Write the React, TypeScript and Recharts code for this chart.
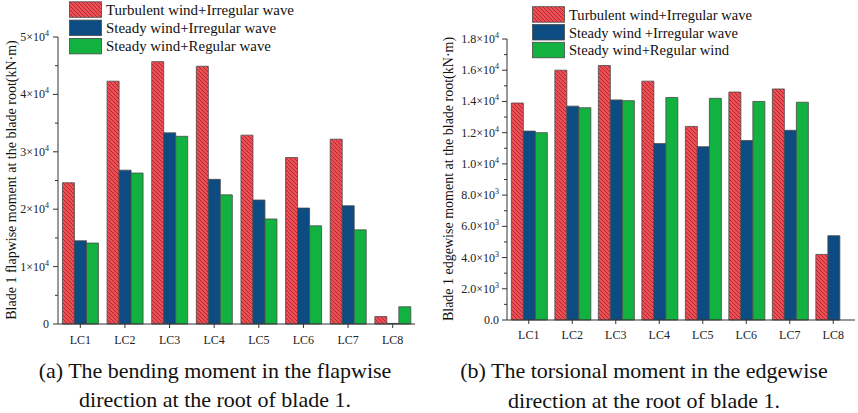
import { BarChart, Bar, XAxis, YAxis } from 'recharts'

const categories = ['LC1', 'LC2', 'LC3', 'LC4', 'LC5', 'LC6', 'LC7', 'LC8']

// (a) flapwise bending moment, kN·m
const flapTurbIrr = [24600, 42300, 45700, 44900, 32900, 29000, 32200, 1300]
const flapSteadyIrr = [14500, 26800, 33300, 25200, 21600, 20200, 20600, 100]
const flapSteadyReg = [14100, 26300, 32700, 22500, 18300, 17100, 16400, 3000]

// (b) edgewise torsional moment, kN·m
const edgeTurbIrr = [13900, 16000, 16300, 15300, 12400, 14600, 14800, 4200]
const edgeSteadyIrr = [12100, 13700, 14100, 11300, 11100, 11500, 12150, 5400]
const edgeSteadyReg = [12000, 13600, 14050, 14250, 14200, 14000, 13950, 0]

const flapLegend = ['Turbulent wind+Irregular wave', 'Steady wind+Irregular wave', 'Steady wind+Regular wave']
const edgeLegend = ['Turbulent wind+Irregular wave', 'Steady wind +Irregular wave', 'Steady wind+Regular wind']

const flapTicks = [0, 5000, 10000, 15000, 20000, 25000, 30000, 35000, 40000, 45000, 50000]
const edgeTicks = [0, 1000, 2000, 3000, 4000, 5000, 6000, 7000, 8000, 9000, 10000, 11000, 12000, 13000, 14000, 15000, 16000, 17000, 18000]

const RED = '#F14D55'
const BLUE = '#0D4C82'
const GREEN = '#12B240'
const EDGE = '#4a4a4a'
const FONT = '"Liberation Serif", "Times New Roman", serif'

const flapData = categories.map((c, i) => ({ name: c, a: flapTurbIrr[i], b: flapSteadyIrr[i], c: flapSteadyReg[i] }))
const edgeData = categories.map((c, i) => ({ name: c, a: edgeTurbIrr[i], b: edgeSteadyIrr[i], c: edgeSteadyReg[i] }))

function fmtFlap(v: number) {
  if (v === 0) return { m: '0', e: '' }
  return { m: `${v / 10000}×10`, e: '4' }
}

function fmtEdge(v: number) {
  if (v === 0) return { m: '0.0', e: '' }
  if (v < 10000) return { m: `${(v / 1000).toFixed(1)}×10`, e: '3' }
  return { m: `${(v / 10000).toFixed(1)}×10`, e: '4' }
}

function makeYTick(step: number, fmt: (v: number) => { m: string; e: string }, gap: number) {
  return (props: any) => {
    const { x, y, payload } = props
    const major = payload.value % step === 0
    const len = major ? 5 : 3
    const t = fmt(payload.value)
    return (
      <g>
        <line x1={x - len} x2={x} y1={y} y2={y} stroke="#333" strokeWidth={1} />
        {major && (
          <text x={x - 5 - gap} y={y + 4} textAnchor="end" fontSize={12} fontFamily={FONT} fill="#222">
            {t.m}
            {t.e && <tspan fontSize={8} dy={-5}>{t.e}</tspan>}
          </text>
        )}
      </g>
    )
  }
}

function Hatch({ id }: { id: string }) {
  return (
    <pattern id={id} patternUnits="userSpaceOnUse" width={4} height={4}>
      <rect width={4} height={4} fill={RED} />
      <path d="M-1,-1 L5,5 M-1,3 L1,5 M3,-1 L5,1" stroke="#9b2a30" strokeWidth={0.9} />
    </pattern>
  )
}

// legend drawn in svg so the label widths can be pinned to the reference
function Legend({ labels, widths, x, y, pitch, fontSize, hatchId }: {
  labels: string[]; widths: number[]; x: number; y: number; pitch: number; fontSize: number; hatchId: string
}) {
  const fills = [`url(#${hatchId})`, BLUE, GREEN]
  return (
    <g>
      <defs><Hatch id={hatchId} /></defs>
      {labels.map((l, i) => (
        <g key={l}>
          <rect x={x} y={y + i * pitch} width={32} height={15.5} fill={fills[i]} stroke={EDGE} strokeWidth={0.8} />
          <text x={x + 36.5} y={y + i * pitch + 13} fontSize={fontSize} fontFamily={FONT} fill="#111"
            textLength={widths[i]} lengthAdjust="spacingAndGlyphs">
            {l}
          </text>
        </g>
      ))}
    </g>
  )
}

export default function App() {
  return (
    <div style={{ position: 'absolute', left: 0, top: 0, width: 858, height: 413, background: '#fff', fontFamily: FONT }}>
      <div style={{ position: 'absolute', left: 0, top: 0 }}>
        <BarChart width={430} height={413} data={flapData} margin={{ top: 37, right: 15, bottom: 59, left: 0 }} barCategoryGap="10%" barGap={0}>
          <defs><Hatch id="hatchA" /></defs>
          <XAxis dataKey="name" height={30} stroke="#333" tickSize={4} tickMargin={7}
            tick={{ fontSize: 12, fontFamily: FONT, fill: '#222' }} />
          <YAxis width={58} domain={[0, 50000]} ticks={flapTicks} interval={0} stroke="#333"
            tickLine={false} tickSize={0} tickMargin={0} tick={makeYTick(10000, fmtFlap, 4)} />
          <Bar dataKey="a" fill="url(#hatchA)" stroke={EDGE} strokeWidth={0.8} isAnimationActive={false} />
          <Bar dataKey="b" fill={BLUE} stroke={EDGE} strokeWidth={0.8} isAnimationActive={false} />
          <Bar dataKey="c" fill={GREEN} stroke={EDGE} strokeWidth={0.8} isAnimationActive={false} />
        </BarChart>
      </div>
      <div style={{ position: 'absolute', left: 430, top: 0 }}>
        <BarChart width={428} height={413} data={edgeData} margin={{ top: 39, right: 3, bottom: 63, left: 0 }} barCategoryGap="10%" barGap={0}>
          <defs><Hatch id="hatchB" /></defs>
          <XAxis dataKey="name" height={30} stroke="#333" tickSize={4} tickMargin={6}
            tick={{ fontSize: 12, fontFamily: FONT, fill: '#222' }} />
          <YAxis width={77} domain={[0, 18000]} ticks={edgeTicks} interval={0} stroke="#333"
            tickLine={false} tickSize={0} tickMargin={0} tick={makeYTick(2000, fmtEdge, 3)} />
          <Bar dataKey="a" fill="url(#hatchB)" stroke={EDGE} strokeWidth={0.8} isAnimationActive={false} />
          <Bar dataKey="b" fill={BLUE} stroke={EDGE} strokeWidth={0.8} isAnimationActive={false} />
          <Bar dataKey="c" fill={GREEN} stroke={EDGE} strokeWidth={0.8} isAnimationActive={false} />
        </BarChart>
      </div>

      <svg width={858} height={413} style={{ position: 'absolute', left: 0, top: 0, pointerEvents: 'none' }}>
        <text transform="translate(16,180) rotate(-90)" textAnchor="middle" fontSize={14} fontFamily={FONT} fill="#111">
          Blade 1 flapwise moment at the blade root(kN·m)
        </text>
        <text transform="translate(453,179) rotate(-90)" textAnchor="middle" fontSize={14} fontFamily={FONT} fill="#111">
          Blade 1 edgewise moment at the blade root(kN·m)
        </text>
        <Legend labels={flapLegend} widths={[188, 170, 165]} x={69.5} y={1.8} pitch={18.3} fontSize={15.5} hatchId="hatchLegA" />
        <Legend labels={edgeLegend} widths={[183, 169, 160]} x={532.5} y={6.7} pitch={17.8} fontSize={15} hatchId="hatchLegB" />
      </svg>

      <div style={{ position: 'absolute', left: 0, width: 430, top: 356, textAlign: 'center', fontSize: 22, lineHeight: '29px', color: '#111' }}>
        (a) The bending moment in the flapwise<br />direction at the root of blade 1.
      </div>
      <div style={{ position: 'absolute', left: 430, width: 428, top: 356, textAlign: 'center', fontSize: 22, lineHeight: '30px', color: '#111' }}>
        (b) The torsional moment in the edgewise<br />direction at the root of blade 1.
      </div>
    </div>
  )
}
